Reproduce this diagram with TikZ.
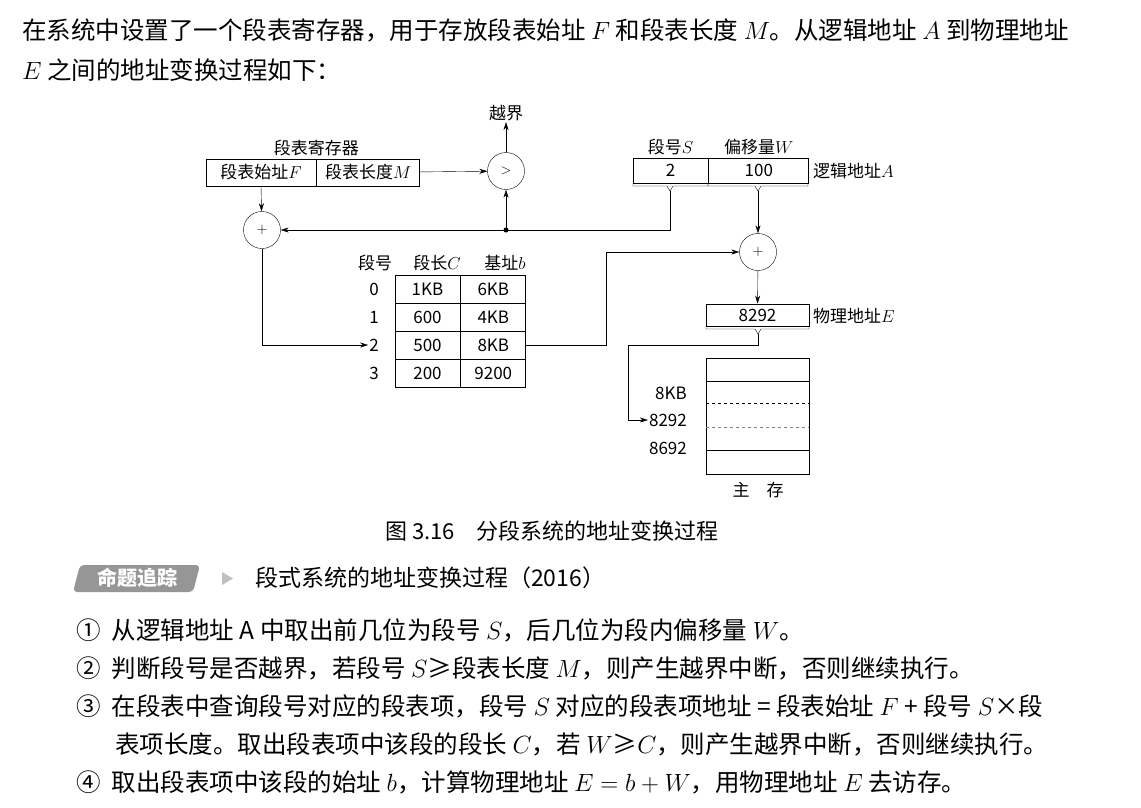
\documentclass[tikz,border=0pt]{standalone}
\usepackage{fontspec}
\setmainfont{Noto Sans CJK SC}
\usetikzlibrary{positioning,arrows.meta}
\definecolor{badgegray}{RGB}{150,150,150}

\begin{document}
\begin{tikzpicture}[x=1pt,y=-1pt,
    lbl/.style={font=\fontsize{17}{19}\selectfont, inner sep=1pt},
    body/.style={font=\fontsize{24.5}{28}\selectfont, anchor=west, inner sep=0pt},
    cell/.style={draw, thick, minimum height=27pt, inner sep=0pt, font=\fontsize{17}{19}\selectfont},
    op/.style={draw, circle, minimum size=37pt, inner sep=0pt, font=\fontsize{14}{16}\selectfont},
    arr/.style={-{Stealth[length=8pt,width=5pt]}}]
\useasboundingbox (0,0) rectangle (1141,807);

% Text above
\node[body] (t1) at (22,30) {在系统中设置了一个段表寄存器，用于存放段表始址 $F$ 和段表长度 $M$。从逻辑地址 $A$ 到物理地址};
\node[body] (t2) at (22,70) {$E$ 之间的地址变换过程如下：};

% Segment table register
\node[cell, minimum width=110pt] (regF) at (261,172.5) {段表始址$F$};
\node[cell, minimum width=103pt, right=0pt of regF] (regM) {段表长度$M$};
\node[lbl, above=1pt of regF.north east] (regL) {段表寄存器};

% Compare and add
\node[op] (cmp) at (506,171) {$>$};
\node[lbl] (out) at (506,113) {越界};
\node[op] (add1) at (262,230) {$+$};
\coordinate (dot) at (506,230);
\fill (dot) circle (2.5pt);

% Logical address
\node[cell, minimum width=75pt, minimum height=25pt] (segS) at (670.5,170.5) {2};
\node[cell, minimum width=100pt, minimum height=25pt, right=0pt of segS] (offW) {100};
\node[lbl, above=1pt of segS] {段号$S$};
\node[lbl, above=1pt of offW] {偏移量$W$};
\node[lbl, anchor=west] (logA) at (812,171) {逻辑地址$A$};
\foreach \a/\b/\m in {633/708/670, 708/808/758} {
  \draw (\a,183) -- (\a,186) -- (\m-3,186) -- (\m,191);
  \draw (\b,183) -- (\b,186) -- (\m+3,186) -- (\m,191);
}
\coordinate (sOut) at (670,191);
\coordinate (wOut) at (758,191);

% Segment table
\foreach \r/\c/\b [count=\i from 0] in {1KB/6KB, 600/4KB, 500/8KB, 200/9200} {
  \node[cell, minimum width=65pt, minimum height=28pt] (c\i) at (427.5,289+28*\i) {\r};
  \node[cell, minimum width=65pt, minimum height=28pt, right=0pt of c\i] (b\i) {\c};
  \node[lbl] (n\i) at (374,289+28*\i) {\i};
}
\node[lbl] at (375,263) {段号};
\node[lbl] at (437,263) {段长$C$};
\node[lbl] at (505,263) {基址$b$};

% Physical address
\node[op] (add2) at (758,252) {$+$};
\node[cell, minimum width=103pt, minimum height=22pt] (phys) at (757.5,315) {8292};
\node[lbl, anchor=west] (physL) at (812,316) {物理地址$E$};
\draw (706,326) -- (706,329) -- (755,329) -- (758,334) -- (761,329) -- (809,329) -- (809,326);
\coordinate (eOut) at (758,334);

% Main memory
\draw[thick] (706,358) rectangle (809,474);
\draw (706,381) -- (809,381);
\draw[dashed] (706,403) -- (809,403);
\draw[dashed, gray] (706,427) -- (809,427);
\draw (706,450) -- (809,450);
\node[lbl, anchor=east] (m1) at (688,393) {8KB};
\node[lbl, anchor=east] (m2) at (688,420) {8292};
\node[lbl, anchor=east] (m3) at (688,448) {8692};
\node[lbl] at (758,490) {主\quad 存};

% Connectors
\draw[arr] (regM) -- (cmp);
\draw[arr] (cmp) -- (out);
\draw[arr] (regF.south) -- (add1);
\draw[arr] (sOut) |- (add1);
\draw[arr] (dot) -- (cmp);
\draw[arr] (wOut) -- (add2);
\draw[arr] (add1) |- (n2);
\draw[arr] (b2.east) -- ++(80,0) |- (add2);
\draw[arr] (add2) -- (phys);
\draw[arr] (eOut) -- ++(0,11) -| (628,420) -- (m2.west);

% Caption
\node[font=\fontsize{22}{24}\selectfont] (cap) at (552,531) {图 3.16\quad 分段系统的地址变换过程};

% Badge
\fill[badgegray, rounded corners=4pt] (80,565) -- (200,565) -- (193,592) -- (73,592) -- cycle;
\node[font=\fontsize{20}{22}\selectfont\bfseries, text=white] (badge) at (137,578) {命题追踪};
\fill[badgegray!60] (222,572) -- (233,578.5) -- (222,585) -- cycle;
\node[body, font=\fontsize{23}{26}\selectfont] (sec) at (255,578) {段式系统的地址变换过程（2016）};

% Steps
\node[body] (s1) at (76,630) {①\ \ 从逻辑地址 A 中取出前几位为段号 $S$，后几位为段内偏移量 $W$。};
\node[body] (s2) at (76,668) {②\ \ 判断段号是否越界，若段号 $S$≥段表长度 $M$，则产生越界中断，否则继续执行。};
\node[body] (s3) at (76,706) {③\ \ 在段表中查询段号对应的段表项，段号 $S$ 对应的段表项地址 = 段表始址 $F$ + 段号 $S$×段};
\node[body] (s3b) at (115,744) {表项长度。取出段表项中该段的段长 $C$，若 $W$≥$C$，则产生越界中断，否则继续执行。};
\node[body] (s4) at (76,782) {④\ \ 取出段表项中该段的始址 $b$，计算物理地址 $E=b+W$，用物理地址 $E$ 去访存。};
\end{tikzpicture}
\end{document}
